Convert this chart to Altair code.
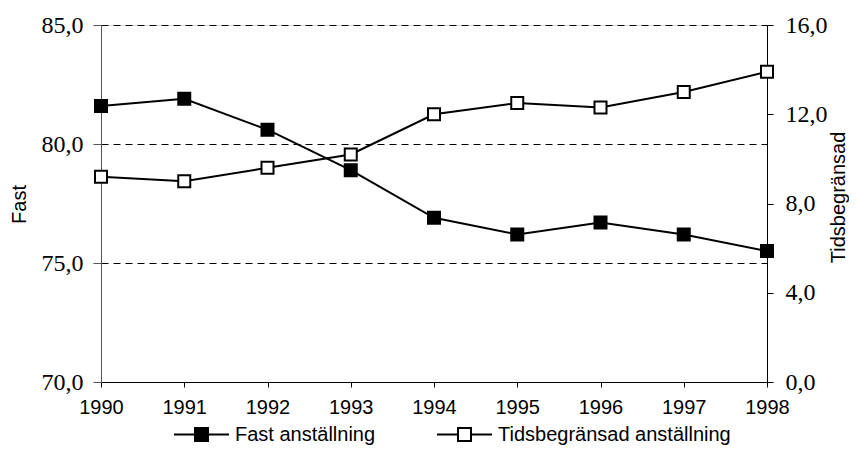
import altair as alt
import pandas as pd

years = [1990, 1991, 1992, 1993, 1994, 1995, 1996, 1997, 1998]
fast = [81.6, 81.9, 80.6, 78.9, 76.9, 76.2, 76.7, 76.2, 75.5]
tids = [9.2, 9.0, 9.6, 10.2, 12.0, 12.5, 12.3, 13.0, 13.9]
series = ["Fast anställning", "Tidsbegränsad anställning"]
left_ticks = [70, 75, 80, 85]
right_ticks = [0, 4, 8, 12, 16]

df_f = pd.DataFrame({"year": years, "value": fast, "series": series[0]})
df_t = pd.DataFrame({"year": years, "value": tids, "series": series[1]})

SANS = "Liberation Sans, Arial, sans-serif"
SERIF = "Liberation Serif, Times New Roman, serif"
label_expr = "replace(format(datum.value, '.1f'), '.', ',')"

x = alt.X("year:Q", scale=alt.Scale(domain=[1990, 1998], nice=False),
          axis=alt.Axis(values=years, format="d", title=None, grid=False,
                        labelFont=SANS, labelFontSize=20, labelColor="black",
                        labelPadding=10, tickSize=5, tickColor="black",
                        domainColor="black", labelFlush=False))

fill = alt.Fill("series:N", scale=alt.Scale(domain=series, range=["black", "white"]),
                legend=alt.Legend(title=None, orient="none", direction="horizontal",
                                  legendX=72, legendY=381,
                                  symbolType="M-1,0 H-0.236 M0.236,0 H1 M-0.236,-0.236 H0.236 V0.236 H-0.236 Z",
                                  symbolSize=3025, symbolStrokeColor="black",
                                  symbolStrokeWidth=2, labelOffset=5,
                                  columnPadding=57, labelLimit=400,
                                  labelFont=SANS, labelFontSize=20, labelColor="black"))

y_left = alt.Y("value:Q", scale=alt.Scale(domain=[70, 85], nice=False, zero=False),
               axis=alt.Axis(values=left_ticks, labelExpr=label_expr, title="Fast",
                             orient="left", grid=True, gridColor="black",
                             gridDash=[7, 5], gridWidth=1,
                             labelFont=SERIF, labelFontSize=24, labelColor="black",
                             labelPadding=10, tickSize=8, tickColor="#555",
                             domainColor="#555",
                             titleFont=SANS, titleFontSize=20, titleFontWeight="normal",
                             titleColor="black", titleAngle=270,
                             titleX=-82, titleY=179, titleAlign="center",
                             titleBaseline="middle"))

y_right = alt.Y("value:Q", scale=alt.Scale(domain=[0, 16], nice=False, zero=False),
                axis=alt.Axis(values=right_ticks, labelExpr=label_expr, title="Tidsbegränsad",
                              orient="right", grid=False,
                              labelFont=SERIF, labelFontSize=24, labelColor="black",
                              labelPadding=12, tickSize=6, tickColor="black",
                              domainColor="black",
                              titleFont=SANS, titleFontSize=20, titleFontWeight="normal",
                              titleColor="black", titleAngle=270,
                              titleX=71, titleY=172, titleAlign="center",
                              titleBaseline="middle"))

base_f = alt.Chart(df_f)
base_t = alt.Chart(df_t)

line_f = base_f.mark_line(color="black", strokeWidth=2).encode(x=x, y=y_left)
pt_f = base_f.mark_point(shape="square", filled=True, size=144, stroke="black",
                         strokeWidth=2, opacity=1).encode(x=x, y=y_left, fill=fill)
line_t = base_t.mark_line(color="black", strokeWidth=2).encode(x=x, y=y_right)
pt_t = base_t.mark_point(shape="square", filled=True, size=144, stroke="black",
                         strokeWidth=2, opacity=1).encode(x=x, y=y_right, fill=fill)

left = alt.layer(line_f, pt_f)
right = alt.layer(line_t, pt_t)

chart = alt.layer(left, right).resolve_scale(y="independent").properties(
    width=666, height=357,
    autosize=alt.AutoSizeParams(type="none"),
    padding={"left": 93, "top": 17, "right": 82, "bottom": 66},
).configure_view(stroke=None).configure(background="white")

chart.save("out.html", embed_options={"renderer": "svg", "actions": False})
